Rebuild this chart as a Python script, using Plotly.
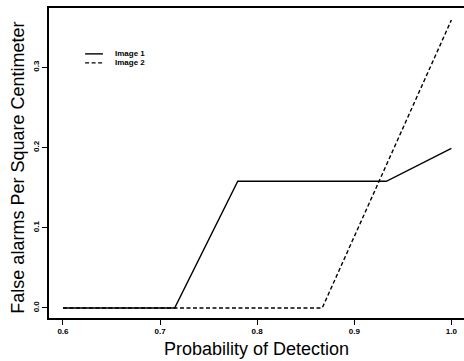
import plotly.graph_objects as go

img1_x = [0.6, 0.715, 0.78, 0.933, 1.0]
img1_y = [0.0, 0.0, 0.158, 0.158, 0.199]
img2_x = [0.6, 0.867, 1.0]
img2_y = [0.0, 0.0, 0.359]
series_names = ["Image 1", "Image 2"]
x_ticks = [0.6, 0.7, 0.8, 0.9, 1.0]
x_tick_labels = ["0.6", "0.7", "0.8", "0.9", "1.0"]
y_ticks = [0.0, 0.1, 0.2, 0.3]
y_tick_labels = ["0.0", "0.1", "0.2", "0.3"]

solid = dict(color="black", width=1.4, dash="solid")
dashed = dict(color="black", width=1.4, dash="4px,2.5px")

fig = go.Figure()
fig.add_trace(go.Scatter(x=img1_x, y=img1_y, mode="lines", name=series_names[0], line=solid))
fig.add_trace(go.Scatter(x=img2_x, y=img2_y, mode="lines", name=series_names[1], line=dashed))

# compact legend (paper coordinates)
leg_y = [0.852, 0.823]
for name, style, yy in zip(series_names, [solid, dashed], leg_y):
    fig.add_shape(type="line", xref="paper", yref="paper", x0=0.087, x1=0.130,
                  y0=yy, y1=yy, line=style)
    fig.add_annotation(xref="paper", yref="paper", x=0.155, y=yy, text=name,
                       showarrow=False, xanchor="left", yanchor="middle",
                       font=dict(size=8, weight="bold", color="black"))

fig.add_annotation(xref="paper", yref="paper", x=0.501, y=-0.1,
                   text="Probability of Detection", showarrow=False,
                   xanchor="center", yanchor="middle", font=dict(size=18, color="black"))
fig.add_annotation(xref="paper", yref="paper", x=-0.0747, y=0.485,
                   text="False alarms Per Square Centimeter", showarrow=False, textangle=-90,
                   xanchor="center", yanchor="middle", font=dict(size=18, color="black"))

fig.update_layout(
    width=464, height=361,
    margin=dict(l=49, r=0, t=8, b=43),
    paper_bgcolor="white", plot_bgcolor="white",
    font=dict(family="Liberation Sans, Arial", color="black"),
    showlegend=False,
)
fig.update_xaxes(
    range=[0.5856, 1.013], tickvals=x_ticks, ticktext=x_tick_labels, automargin=False,
    showgrid=False, zeroline=False, showline=True, linecolor="black", linewidth=1.5,
    mirror=True, ticks="outside", ticklen=5, tickcolor="black",
    tickfont=dict(size=8, weight="bold"),
)
fig.update_yaxes(
    range=[-0.0125, 0.374], tickvals=y_ticks, ticktext=y_tick_labels, automargin=False,
    showgrid=False, zeroline=False, showline=True, linecolor="black", linewidth=1.5,
    mirror=False, ticks="outside", ticklen=5, tickcolor="black",
    tickangle=-90, tickfont=dict(size=8, weight="bold"),
)

fig.write_html(
    "out.html",
    config={"displayModeBar": False},
    post_script="document.body.style.margin='0';document.body.style.overflow='hidden';",
)
